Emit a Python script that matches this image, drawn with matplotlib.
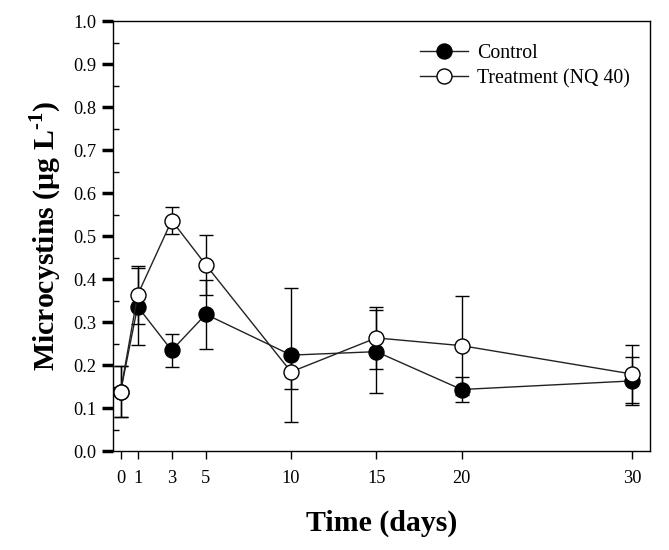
import matplotlib
matplotlib.use('Agg')
import matplotlib.pyplot as plt
from matplotlib.lines import Line2D
from matplotlib.ticker import MultipleLocator, FormatStrFormatter

# sampling days
days = [0, 1, 3, 5, 10, 15, 20, 30]

# microcystins (ug/L)
control = [0.138, 0.336, 0.234, 0.318, 0.223, 0.231, 0.143, 0.163]
control_err = [0.060, 0.090, 0.039, 0.080, 0.156, 0.096, 0.030, 0.055]

treatment = [0.138, 0.363, 0.536, 0.433, 0.184, 0.263, 0.245, 0.179]
treatment_err = [0.060, 0.068, 0.032, 0.070, 0.039, 0.072, 0.115, 0.068]

xticks = [0, 1, 3, 5, 10, 15, 20, 30]

plt.rcParams['font.family'] = ['Liberation Serif', 'DejaVu Serif']
plt.rcParams['mathtext.fontset'] = 'custom'
plt.rcParams['mathtext.rm'] = 'Liberation Serif'
plt.rcParams['mathtext.bf'] = 'Liberation Serif:bold'

fig = plt.figure(figsize=(6.69, 5.5), dpi=100)
ax = fig.add_axes([0.169, 0.18, 0.8026, 0.7818])

common = dict(ecolor='black', elinewidth=1.0, capsize=4.8, capthick=1.0,
              markersize=10.8, markeredgecolor='black', markeredgewidth=1.0,
              linewidth=1.0)
ax.errorbar(days, control, yerr=control_err, fmt='o-', color='#222222',
            markerfacecolor='black', zorder=2, **common)
ax.errorbar(days, treatment, yerr=treatment_err, fmt='o-', color='#222222',
            markerfacecolor='white', zorder=3, **common)

ax.set_xlim(-0.44, 31.05)
ax.set_ylim(0, 1.0)
ax.set_xticks(xticks)
ax.set_xticklabels([str(d) for d in xticks])
ax.yaxis.set_major_locator(MultipleLocator(0.1))
ax.yaxis.set_minor_locator(MultipleLocator(0.05))
ax.yaxis.set_major_formatter(FormatStrFormatter('%.1f'))

ax.tick_params(axis='y', which='major', direction='out', length=8, width=2.5, labelsize=13.2, pad=4)
ax.tick_params(axis='y', which='minor', direction='in', length=4, width=1)
ax.tick_params(axis='x', which='major', direction='out', length=6, width=1, labelsize=13.2, pad=8)
for s in ax.spines.values():
    s.set_linewidth(1.0)

ax.set_xlabel('Time (days)', fontsize=21.5, fontweight='bold', labelpad=16)
ax.set_ylabel('Microcystins ($\\mathbf{\\mu}$g L$^{\\mathbf{\u2010}\\mathbf{1}}$)', fontsize=21.5,
              fontweight='bold', labelpad=7)

handles = [
    Line2D([], [], color='#222222', lw=1.0, marker='o', markersize=10.8,
           markerfacecolor='black', markeredgecolor='black'),
    Line2D([], [], color='#222222', lw=1.0, marker='o', markersize=10.8,
           markerfacecolor='white', markeredgecolor='black'),
]
ax.legend(handles, ['Control', 'Treatment (NQ 40)'], loc='upper left',
          bbox_to_anchor=(0.572, 0.946), frameon=False,
          fontsize=14.3, handlelength=2.4, handletextpad=0.45, borderpad=0,
          labelspacing=0.3, borderaxespad=0)

fig.savefig('out.png', dpi=100)
plt.close()
